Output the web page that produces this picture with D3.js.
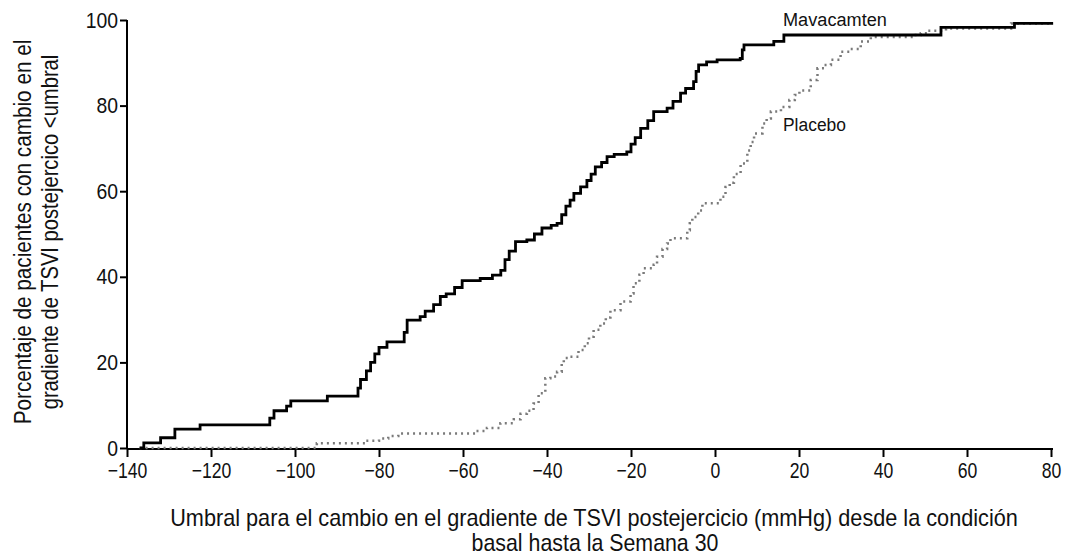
<!DOCTYPE html>
<html><head><meta charset="utf-8">
<script src="https://cdn.jsdelivr.net/npm/d3@7/dist/d3.min.js"></script>
<style>
body{margin:0;background:#fff;}
text{font-family:"Liberation Sans","Arial",sans-serif;fill:#111;}
</style></head><body>
<svg id="c" width="1070" height="557"></svg>
<script>
const xTicks = [-140,-120,-100,-80,-60,-40,-20,0,20,40,60,80];
const yTicks = [0,20,40,60,80,100];
const seriesNames = ["Mavacamten","Placebo"];
const mavaX = [-137,-136,-132,-128.6,-122.6,-106,-105,-102,-101,-92.3,-85,-84.4,-83,-82,-81,-80,-78.1,-74,-73.3,-70.2,-69,-67,-65.4,-64,-62,-60.2,-55.9,-53,-51,-50,-49,-47.5,-44.8,-43,-41.2,-39,-37.6,-36.5,-35.5,-34.5,-33.6,-32,-30.5,-29.5,-28.5,-27,-25.7,-24,-21,-20,-19,-17.7,-16,-14.6,-11.4,-10,-8.2,-7,-5.1,-4.5,-3.9,-2,0.5,6,6.5,6.9,14,16.4,53.8,71.3,80.5];
const mavaY = [0,1.2,2.4,4.4,5.4,7,8.7,9.8,11,12.1,14,16,18,20,22,23.5,24.8,27,29.9,30.7,32,33.5,35.4,36,37.5,39.1,39.6,40.4,41.5,44,46,48.2,48.6,50,51.4,52,52.5,54.5,56.5,57.9,59.5,61,62.5,64,65.7,66.7,68.1,68.6,69.2,71,72.5,74.7,76.5,78.6,79.4,81,82.9,84,85.6,88,89.5,90.2,90.7,91,93,94.2,95,96.5,98.3,99.2,99.2];
const placX = [-137,-94.8,-83.3,-80,-77.8,-75.4,-57,-54.3,-51.1,-47.9,-46.3,-44.8,-43.2,-42,-40.4,-39.2,-37.6,-36.5,-36,-34.5,-32.5,-31,-30,-28.9,-27.3,-26,-24.9,-22.5,-20.1,-19.4,-18,-17,-14.6,-13.8,-12.5,-11.4,-10.6,-6.6,-6,-5.4,-4,-3,1.3,2.5,3.5,4.5,6.1,7.7,8.5,9.3,11.3,12.3,13.3,15.7,17.7,19,20.1,22.8,24.4,26,27.6,29.9,32.3,34.7,37.1,47.4,49,50.5,55,70.5,80.5];
const placY = [0,1.1,1.7,2.2,2.8,3.4,4,4.7,5.8,6.7,8,8.7,10.4,12.8,16.3,16.7,17.8,20,21,21.3,22.9,24.5,26,27.6,29.1,30.5,32.2,34.2,36.1,38.5,40.5,42,42.8,44.7,46.5,47.8,49,50.9,52.5,54,55.5,57.2,58.7,61,62,64,66.5,69.5,71.5,73.5,75.8,77,78.6,79.7,81.3,82.5,83.5,86,88.7,89.5,90.7,92.6,93.2,95,96,96.5,96.9,97.5,98,99.2,99.2];
const xTitle = ["Umbral para el cambio en el gradiente de TSVI postejercicio (mmHg) desde la condición","basal hasta la Semana 30"];
const yTitle = ["Porcentaje de pacientes con cambio en el","gradiente de TSVI postejercico <umbral"];

const svg = d3.select("#c");
const x = d3.scaleLinear().domain([-140,80]).range([127,1051]);
const y = d3.scaleLinear().domain([0,100]).range([448,20]);

const xa = svg.append("g").attr("transform","translate(0,449)")
  .call(d3.axisBottom(x).tickValues(xTicks).tickSize(8).tickPadding(5).tickFormat(d3.format("d")));
const ya = svg.append("g").attr("transform","translate(127,0)")
  .call(d3.axisLeft(y).tickValues(yTicks).tickSize(7).tickPadding(2).tickFormat(d3.format("d")));
[xa,ya].forEach(a=>{
  a.attr("font-size",null).attr("font-family",null);
  a.selectAll("path").attr("stroke","#000").attr("stroke-width",2);
  a.selectAll("line").attr("stroke","#000").attr("stroke-width",2);
  a.selectAll("text").style("font-size","22px").attr("fill","#111");
});
const fx = 0.8, fy = 0.88;
xa.selectAll("text").attr("transform",`scale(${fx},1)`);
ya.selectAll("text").attr("x", -9/fy).attr("transform",`scale(${fy},1)`);
xa.selectAll("path").attr("d","M127,0H1053");
ya.selectAll("path").attr("d","M0,449V20");

const line = d3.line().x(d=>x(d[0])).y(d=>y(d[1])).curve(d3.curveStepAfter);
const plac = placX.map((v,i)=>[v,placY[i]]);
const mava = mavaX.map((v,i)=>[v,mavaY[i]]);
svg.append("path").datum(plac).attr("d",line).attr("fill","none")
  .attr("stroke","#7a7a7a").attr("stroke-width",2.5).attr("stroke-dasharray","2,4");
svg.append("path").datum(mava).attr("d",line).attr("fill","none")
  .attr("stroke","#000").attr("stroke-width",2.8);

function ctext(str, tx, ty, size, target, anchor, rot){
  const g = svg.append("g");
  const t = g.append("text").attr("text-anchor",anchor).style("font-size",size+"px").text(str);
  const w = t.node().getComputedTextLength();
  const f = target / w;
  g.attr("transform",`translate(${tx},${ty})${rot?` rotate(${rot})`:""} scale(${f},1)`);
  return t;
}
ctext(seriesNames[0], 783, 26, 19, 104, "start", 0);
ctext(seriesNames[1], 783, 131, 19, 63, "start", 0);
ctext(xTitle[0], 594, 526, 24, 848, "middle", 0);
ctext(xTitle[1], 595, 551, 24, 247, "middle", 0);
const yW = [385, 355];
yTitle.forEach((t,i)=> ctext(t, 31+i*27, 232, 23, yW[i], "middle", -90));
</script></body></html>
